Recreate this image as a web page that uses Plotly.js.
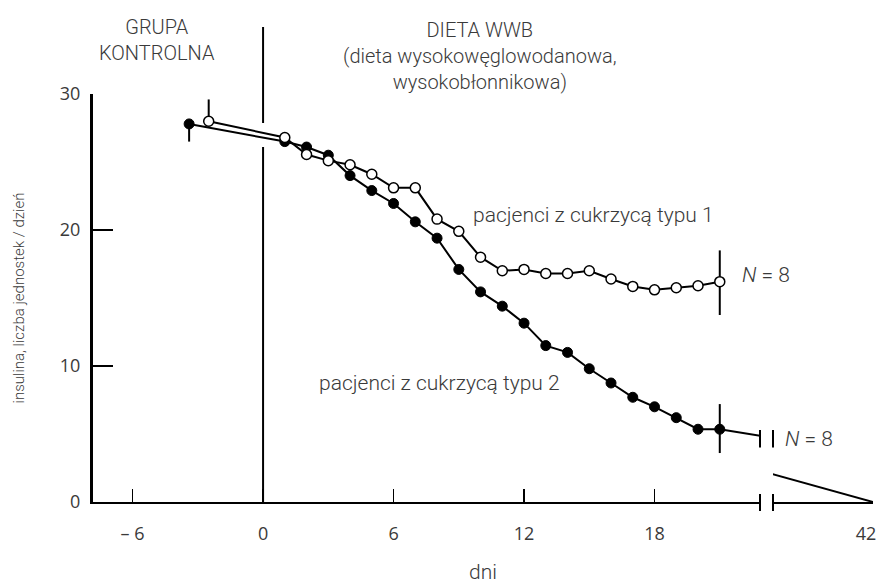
<!DOCTYPE html>
<html>
<head>
<meta charset="utf-8">
<script src="https://cdn.plot.ly/plotly-3.0.1.min.js"></script>
<style>html,body{margin:0;padding:0;background:#fff}</style>
</head>
<body>
<div id="chart" style="width:880px;height:585px"></div>
<script>
// ---- data ----
const type2Days   = [-3.4, 1, 2, 3, 4, 5, 6, 7, 8, 9, 10, 11, 12, 13, 14, 15, 16, 17, 18, 19, 20, 21];
const type2Values = [27.8, 26.5, 26.1, 25.5, 24.0, 22.9, 21.95, 20.6, 19.4, 17.1, 15.45, 14.4, 13.15, 11.5, 11.0, 9.8, 8.75, 7.7, 7.0, 6.2, 5.35, 5.35];
const type2ErrPlus  = [0, 0, 0, 0, 0, 0, 0, 0, 0, 0, 0, 0, 0, 0, 0, 0, 0, 0, 0, 0, 0, 1.85];
const type2ErrMinus = [1.3, 0, 0, 0, 0, 0, 0, 0, 0, 0, 0, 0, 0, 0, 0, 0, 0, 0, 0, 0, 0, 1.75];

const type1Days   = [-2.5, 1, 2, 3, 4, 5, 6, 7, 8, 9, 10, 11, 12, 13, 14, 15, 16, 17, 18, 19, 20, 21];
const type1Values = [28.0, 26.8, 25.55, 25.1, 24.8, 24.1, 23.1, 23.1, 20.8, 19.9, 18.0, 17.0, 17.1, 16.8, 16.8, 17.0, 16.4, 15.85, 15.6, 15.75, 15.9, 16.2];
const type1ErrPlus  = [1.6, 0, 0, 0, 0, 0, 0, 0, 0, 0, 0, 0, 0, 0, 0, 0, 0, 0, 0, 0, 0, 2.3];
const type1ErrMinus = [0, 0, 0, 0, 0, 0, 0, 0, 0, 0, 0, 0, 0, 0, 0, 0, 0, 0, 0, 0, 0, 2.45];

// type 2 continuation to day 42 (across the axis break)
const tailDays   = [21, 42];
const tailValues = [5.35, 0];

const xTickVals = [-6, 0, 6, 12, 18];
const xTickText = ['– 6', '0', '6', '12', '18'];
const farTickVals = [42];
const farTickText = ['42'];
const yTickVals = [0, 10, 20, 30];
const yTickText = ['0', '10', '20', '30'];

// ---- styling / layout helpers ----
const W = 880, H = 585;
const M = {l: 93, r: 7, t: 94, b: 83};
const PW = W - M.l - M.r, PH = H - M.t - M.b;
const PX = px => (px - M.l) / PW;
const PY = py => (H - M.b - py) / PH;
const dom1End = PX(760), dom2Start = PX(773);

const TXT = 'Roboto, "Liberation Sans", sans-serif';
const TICKF = {family: '"Open Sans", "DejaVu Sans", sans-serif', size: 18, color: '#3a3a3a'};
const txtColor = '#3a3a3a';

const traces = [
  {x: tailDays, y: tailValues, xaxis: 'x', yaxis: 'y', mode: 'lines',
   line: {color: '#000', width: 2}, hoverinfo: 'skip', showlegend: false},
  {x: tailDays, y: tailValues, xaxis: 'x2', yaxis: 'y', mode: 'lines',
   line: {color: '#000', width: 2}, hoverinfo: 'skip', showlegend: false},
  {x: type2Days, y: type2Values, xaxis: 'x', yaxis: 'y', mode: 'lines+markers',
   name: 'pacjenci z cukrzycą typu 2', showlegend: false,
   line: {color: '#000', width: 2},
   marker: {symbol: 'circle', size: 10, color: '#000', line: {color: '#000', width: 1}},
   error_y: {type: 'data', symmetric: false, array: type2ErrPlus, arrayminus: type2ErrMinus,
             color: '#000', thickness: 2, width: 0}},
  {x: type1Days, y: type1Values, xaxis: 'x', yaxis: 'y', mode: 'lines+markers',
   name: 'pacjenci z cukrzycą typu 1', showlegend: false,
   line: {color: '#000', width: 2},
   marker: {symbol: 'circle', size: 10, color: '#fff', line: {color: '#000', width: 1.5}},
   error_y: {type: 'data', symmetric: false, array: type1ErrPlus, arrayminus: type1ErrMinus,
             color: '#000', thickness: 2, width: 0}}
];

const lineStyle = {color: '#000', width: 2};
const shapes = [
  // vertical divider at day 0 (with a gap where the series pass)
  {type: 'line', xref: 'x', yref: 'paper', x0: 0, x1: 0, y0: 0, y1: PY(147), line: lineStyle},
  {type: 'line', xref: 'x', yref: 'paper', x0: 0, x1: 0, y0: PY(123), y1: PY(27), line: lineStyle},
  // axis break marks
  {type: 'line', xref: 'paper', yref: 'paper', x0: dom1End, x1: dom1End, y0: PY(511), y1: PY(494), line: lineStyle},
  {type: 'line', xref: 'paper', yref: 'paper', x0: dom2Start, x1: dom2Start, y0: PY(511), y1: PY(494), line: lineStyle},
  {type: 'line', xref: 'paper', yref: 'y', x0: dom1End, x1: dom1End, y0: 4.0, y1: 5.3, line: lineStyle},
  {type: 'line', xref: 'paper', yref: 'y', x0: dom2Start, x1: dom2Start, y0: 4.0, y1: 5.3, line: lineStyle}
];

const af = size => ({family: TXT, size: size, color: txtColor, weight: 300});
const annotations = [
  {xref: 'paper', yref: 'paper', x: PX(157), y: PY(40), text: 'GRUPA<br>KONTROLNA',
   showarrow: false, xanchor: 'center', yanchor: 'middle', font: af(20)},
  {xref: 'paper', yref: 'paper', x: PX(480), y: PY(56),
   text: 'DIETA WWB<br>(dieta wysokowęglowodanowa,<br>wysokobłonnikowa)',
   showarrow: false, xanchor: 'center', yanchor: 'middle', font: af(20)},
  {xref: 'x', yref: 'y', x: 9.55, y: 21.1, text: 'pacjenci z cukrzycą typu 1',
   showarrow: false, xanchor: 'left', yanchor: 'middle', font: af(21)},
  {xref: 'x', yref: 'y', x: 2.5, y: 8.75, text: 'pacjenci z cukrzycą typu 2',
   showarrow: false, xanchor: 'left', yanchor: 'middle', font: af(21)},
  {xref: 'x', yref: 'y', x: 21.95, y: 16.7, text: '<i>N</i> = 8',
   showarrow: false, xanchor: 'left', yanchor: 'middle', font: af(21)},
  {xref: 'paper', yref: 'y', x: PX(783), y: 4.6, text: '<i>N</i> = 8',
   showarrow: false, xanchor: 'left', yanchor: 'middle', font: af(21)},
  {xref: 'paper', yref: 'paper', x: PX(483), y: PY(572), text: 'dni',
   showarrow: false, xanchor: 'center', yanchor: 'middle', font: af(21)}
];

const layout = {
  width: W, height: H, autosize: false,
  margin: M,
  paper_bgcolor: '#fff', plot_bgcolor: '#fff',
  showlegend: false,
  xaxis: {
    domain: [0, dom1End], range: [-7.82, 22.85], anchor: 'y',
    showline: true, linecolor: '#000', linewidth: 2,
    ticks: 'inside', ticklen: 13, tickwidth: 1.5, tickcolor: '#000',
    tickmode: 'array', tickvals: xTickVals, ticktext: xTickText,
    tickfont: TICKF, ticklabelstandoff: 14,
    showgrid: false, zeroline: false, fixedrange: true
  },
  xaxis2: {
    domain: [dom2Start, 1], range: [34, 42], anchor: 'y',
    showline: true, linecolor: '#000', linewidth: 2,
    ticks: '', tickmode: 'array', tickvals: farTickVals, ticktext: farTickText,
    tickfont: TICKF, ticklabelstandoff: 14, ticklabelshift: -7,
    showgrid: false, zeroline: false, fixedrange: true
  },
  yaxis: {
    domain: [0, 1], range: [0, 30], anchor: 'x',
    showline: true, linecolor: '#000', linewidth: 3,
    ticks: 'inside', ticklen: 20, tickwidth: 2, tickcolor: '#000',
    tickmode: 'array', tickvals: yTickVals, ticktext: yTickText,
    tickfont: TICKF, ticklabelstandoff: 6,
    title: {text: 'insulina, liczba jednostek / dzień', font: af(15), standoff: 32},
    showgrid: false, zeroline: false, fixedrange: true
  },
  shapes: shapes,
  annotations: annotations
};

Plotly.newPlot('chart', traces, layout, {displayModeBar: false, staticPlot: true});
</script>
</body>
</html>
